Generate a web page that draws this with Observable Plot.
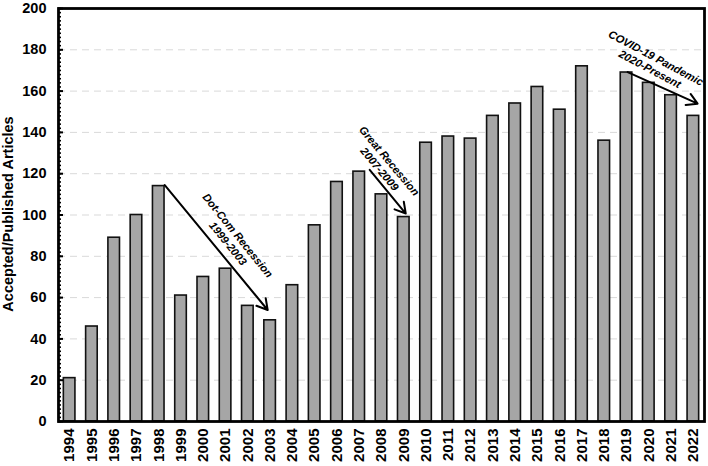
<!DOCTYPE html>
<html>
<head>
<meta charset="utf-8">
<script src="https://cdn.jsdelivr.net/npm/d3@7"></script>
<script src="https://cdn.jsdelivr.net/npm/@observablehq/plot@0.6"></script>
<style>
  html, body { margin: 0; padding: 0; background: #fff; }
  #chart { width: 708px; height: 466px; }
  svg { font-family: "Liberation Sans", Arial, sans-serif; overflow: visible; }
</style>
</head>
<body>
<div id="chart"></div>
<script>
const years = [1994,1995,1996,1997,1998,1999,2000,2001,2002,2003,2004,2005,2006,2007,2008,2009,2010,2011,2012,2013,2014,2015,2016,2017,2018,2019,2020,2021,2022];
const articles = [21,46,89,100,114,61,70,74,56,49,66,95,116,121,110,99,135,138,137,148,154,162,151,172,136,169,164,158,148];
const yTicks = [0,20,40,60,80,100,120,140,160,180,200];
const gridTicks = [20,40,60,80,100,120,140,160,180];
const minorTicks = d3.range(0, 201, 2);

const arrowX1 = [1998.27, 2007.47, 2019.05];
const arrowY1 = [114.5, 121.9, 169.2];
const arrowX2 = [2002.89, 2009.09, 2022.19];
const arrowY2 = [54, 100.7, 153.9];

const labelText = ["Dot-Com Recession\n1999-2003", "Great Recession\n2007-2009", "COVID-19 Pandemic\n2020-Present"];
const labelX = [2001.34, 2008.14, 2020.19];
const labelY = [88.2, 124.3, 173.5];
const labelRotate = [51, 50, 28];

const data = years.map((y, i) => ({year: y, value: articles[i]}));
const arrows = arrowX1.map((x, i) => ({x1: x, y1: arrowY1[i], x2: arrowX2[i], y2: arrowY2[i]}));
const labels = labelText.map((t, i) => ({text: t, x: labelX[i], y: labelY[i], rotate: labelRotate[i]}));

const halfBar = 0.26;

const chart = Plot.plot({
  width: 708,
  height: 466,
  marginLeft: 58,
  marginRight: 4,
  marginTop: 8,
  marginBottom: 45,
  style: {fontFamily: "Liberation Sans, Arial, sans-serif", background: "#fff", overflow: "visible"},
  x: {domain: [1993.5, 2022.5]},
  y: {domain: [0, 200]},
  marks: [
    Plot.ruleY(gridTicks, {stroke: "#d9d9d9", strokeDasharray: "7,5", strokeWidth: 1}),
    Plot.rectY(data, {x1: d => d.year - halfBar, x2: d => d.year + halfBar, y1: 0, y2: "value", fill: "#a6a6a6", stroke: "#111", strokeWidth: 1.6}),
    Plot.axisX({ticks: years, tickFormat: d => String(d), tickRotate: -90, tickSize: 0, tickPadding: 7, fontSize: 15, fontWeight: "bold", label: null}),
    Plot.axisY({ticks: yTicks, tickSize: 0, tickPadding: 12, fontSize: 14.5, fontWeight: "bold", label: null}),
    Plot.axisY({ticks: minorTicks, tickSize: -3, tickFormat: () => "", strokeWidth: 1.6, label: null}),
    Plot.axisY({ticks: yTicks, tickSize: -5, tickFormat: () => "", strokeWidth: 2, label: null}),
    Plot.frame({stroke: "#000", strokeWidth: 2.8}),
    Plot.arrow(arrows, {x1: "x1", y1: "y1", x2: "x2", y2: "y2", stroke: "#000", strokeWidth: 2, headLength: 9}),
    Plot.text(labels, {x: "x", y: "y", text: "text", rotate: "rotate", fontSize: 11, fontWeight: "bold", fontStyle: "italic", lineHeight: 1.15, fill: "#000"})
  ]
});

const wrap = document.getElementById("chart");
wrap.style.position = "relative";
wrap.appendChild(chart);
const ylab = document.createElement("div");
ylab.textContent = "Accepted/Published Articles";
ylab.style.cssText = "position:absolute;left:8px;top:214px;transform:translate(-50%,-50%) rotate(-90deg);white-space:nowrap;font:bold 14.5px 'Liberation Sans', Arial, sans-serif;color:#000;";
wrap.appendChild(ylab);
</script>
</body>
</html>
